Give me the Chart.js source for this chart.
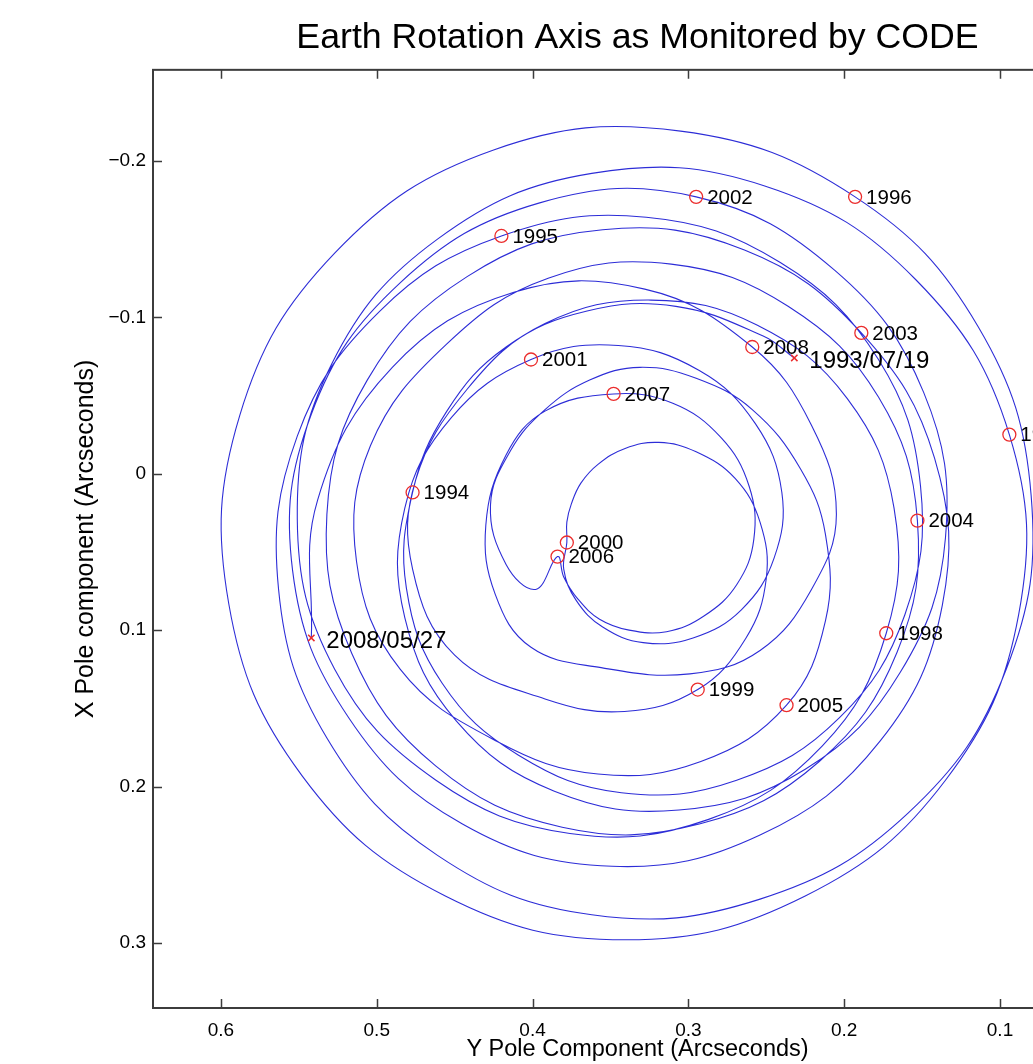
<!DOCTYPE html>
<html>
<head>
<meta charset="utf-8">
<title>Earth Rotation Axis as Monitored by CODE</title>
<script src="https://cdn.jsdelivr.net/npm/chart.js@4.4.1/dist/chart.umd.min.js"></script>
<style>
  html, body { margin: 0; padding: 0; background: #fff; overflow: hidden; }
  #wrap { position: absolute; left: 0; top: 0; width: 1150px; height: 1064px; }
</style>
</head>
<body>
<div id="wrap"><canvas id="chart" width="1150" height="1064"></canvas></div>
<script>
// Pole path 1993/07/19 .. 2008/05/27 (arcseconds)
// poleY = Y pole component (horizontal), poleX = X pole component (vertical)
const poleY = [
  0.232, 0.252, 0.308, 0.365, 0.417, 0.455,
  0.477, 0.481, 0.458, 0.409, 0.343, 0.269, 0.203, 0.161, 0.151, 0.178, 0.241, 0.327,
  0.420, 0.498, 0.551, 0.563, 0.532, 0.461, 0.362, 0.254, 0.159, 0.096, 0.080, 0.114,
  0.193, 0.305, 0.425, 0.527, 0.588, 0.595, 0.548, 0.456, 0.340, 0.225, 0.135, 0.088,
  0.094, 0.154, 0.251, 0.362, 0.461, 0.529, 0.551, 0.527, 0.462, 0.376, 0.287, 0.214,
  0.173, 0.168, 0.198, 0.256, 0.324, 0.392, 0.442, 0.475, 0.477, 0.450, 0.392, 0.341,
  0.294, 0.263, 0.250, 0.254, 0.270, 0.295, 0.319, 0.341, 0.358, 0.369, 0.375, 0.378,
  0.378, 0.380, 0.372, 0.355, 0.329, 0.297, 0.266, 0.245, 0.240, 0.257, 0.293, 0.345,
  0.401, 0.452, 0.482, 0.482, 0.449, 0.386, 0.306, 0.225, 0.164, 0.135, 0.149, 0.206,
  0.295, 0.396, 0.485, 0.542, 0.554, 0.518, 0.445, 0.349, 0.254, 0.177, 0.137, 0.142,
  0.189, 0.264, 0.355, 0.442, 0.506, 0.532, 0.516, 0.462, 0.381, 0.293, 0.216, 0.166,
  0.153, 0.178, 0.236, 0.311, 0.390, 0.455, 0.504, 0.513, 0.485, 0.423, 0.358, 0.292,
  0.237, 0.212, 0.212, 0.228, 0.259, 0.295, 0.331, 0.363, 0.392, 0.414, 0.427, 0.417, 0.398,
  0.384, 0.380, 0.371, 0.357, 0.338, 0.314, 0.290, 0.269, 0.258, 0.261, 0.279, 0.310,
  0.348, 0.392, 0.417, 0.430, 0.424, 0.401, 0.356, 0.299, 0.254, 0.221, 0.205, 0.221,
  0.259, 0.328, 0.412, 0.490, 0.538, 0.542
];
const poleX = [
  -0.074, -0.088, -0.107, -0.104, -0.081, -0.040,
  0.012, 0.073, 0.134, 0.180, 0.204, 0.196, 0.156, 0.090, 0.008, -0.073, -0.135, -0.164,
  -0.152, -0.104, -0.024, 0.074, 0.169, 0.244, 0.282, 0.272, 0.217, 0.125, 0.014, -0.094,
  -0.177, -0.219, -0.207, -0.141, -0.037, 0.083, 0.193, 0.270, 0.298, 0.270, 0.196, 0.090,
  -0.025, -0.124, -0.184, -0.192, -0.150, -0.070, 0.029, 0.125, 0.196, 0.230, 0.221, 0.174,
  0.102, 0.022, -0.048, -0.095, -0.111, -0.096, -0.054, 0.004, 0.061, 0.116, 0.144, 0.152,
  0.138, 0.105, 0.067, 0.031, 0.003, -0.014, -0.020, -0.016, -0.006, 0.006, 0.019, 0.031,
  0.044, 0.061, 0.081, 0.098, 0.108, 0.105, 0.087, 0.054, 0.012, -0.032, -0.066, -0.082,
  -0.073, -0.036, 0.022, 0.092, 0.158, 0.203, 0.215, 0.189, 0.127, 0.041, -0.052, -0.130,
  -0.177, -0.173, -0.122, -0.038, 0.062, 0.156, 0.224, 0.251, 0.231, 0.171, 0.084, -0.010,
  -0.090, -0.143, -0.156, -0.126, -0.060, 0.026, 0.115, 0.187, 0.226, 0.224, 0.184, 0.114,
  0.030, -0.049, -0.107, -0.134, -0.125, -0.083, -0.018, 0.056, 0.125, 0.171, 0.192, 0.184,
  0.148, 0.094, 0.039, -0.003, -0.041, -0.061, -0.068, -0.060, -0.041, -0.015, 0.020, 0.058, 0.074,
  0.053, 0.066, 0.080, 0.093, 0.100, 0.101, 0.091, 0.071, 0.042, 0.008, -0.023, -0.045,
  -0.051, -0.040, -0.012, 0.033, 0.077, 0.111, 0.124, 0.128, 0.113, 0.074, 0.026, -0.031,
  -0.081, -0.118, -0.116, -0.068, 0.017, 0.105
];

// Yearly markers (1 January)
const yearLabels = ['1994', '1995', '1996', '1997', '1998', '1999', '2000', '2001',
                    '2002', '2003', '2004', '2005', '2006', '2007', '2008'];
const yearY = [0.477, 0.420, 0.193, 0.094, 0.173, 0.294, 0.378, 0.401,
               0.295, 0.189, 0.153, 0.237, 0.384, 0.348, 0.259];
const yearX = [0.012, -0.152, -0.177, -0.025, 0.102, 0.138, 0.044, -0.073,
               -0.177, -0.090, 0.030, 0.148, 0.053, -0.051, -0.081];

// First and last epoch
const endLabels = ['1993/07/19', '2008/05/27'];
const endY = [0.232, 0.542];
const endX = [-0.074, 0.105];

const xTickValues = [0.6, 0.5, 0.4, 0.3, 0.2, 0.1];
const xTickLabels = ['0.6', '0.5', '0.4', '0.3', '0.2', '0.1'];
const yTickValues = [-0.2, -0.1, 0, 0.1, 0.2, 0.3];
const yTickLabels = ['\u22120.2', '\u22120.1', '0', '0.1', '0.2', '0.3'];

const FONT = "'Liberation Sans', Arial, Helvetica, sans-serif";
Chart.defaults.font.family = FONT;
Chart.defaults.color = '#000';

const toPoints = (xs, ys) => xs.map((v, i) => ({ x: v, y: ys[i] }));

// Boxed axes with inward ticks on all four sides (MATLAB look)
const frame = {
  id: 'frame',
  afterDatasetsDraw(chart) {
    const { ctx, chartArea: a, scales } = chart;
    ctx.save();
    ctx.strokeStyle = '#3c3c3c';
    ctx.lineWidth = 2;
    ctx.strokeRect(a.left, a.top, a.right - a.left, a.bottom - a.top);
    ctx.lineWidth = 1.5;
    ctx.beginPath();
    xTickValues.forEach(v => {
      const px = Math.round(scales.x.getPixelForValue(v)) + 0.5;
      ctx.moveTo(px, a.top); ctx.lineTo(px, a.top + 9);
      ctx.moveTo(px, a.bottom); ctx.lineTo(px, a.bottom - 9);
    });
    yTickValues.forEach(v => {
      const py = Math.round(scales.y.getPixelForValue(v)) + 0.5;
      ctx.moveTo(a.left, py); ctx.lineTo(a.left + 9, py);
      ctx.moveTo(a.right, py); ctx.lineTo(a.right - 9, py);
    });
    ctx.stroke();
    ctx.restore();
  }
};

// Text next to the year markers and the two end points
const markerText = {
  id: 'markerText',
  afterDatasetsDraw(chart) {
    const { ctx } = chart;
    ctx.save();
    ctx.fillStyle = '#000';
    ctx.textBaseline = 'middle';
    ctx.textAlign = 'left';
    ctx.font = '20.5px ' + FONT;
    chart.getDatasetMeta(0).data.forEach((pt, i) => {
      ctx.fillText(yearLabels[i], pt.x + 11, pt.y + 1);
    });
    ctx.font = '24px ' + FONT;
    chart.getDatasetMeta(1).data.forEach((pt, i) => {
      ctx.fillText(endLabels[i], pt.x + 15, pt.y + 3);
    });
    ctx.restore();
  }
};

new Chart(document.getElementById('chart'), {
  type: 'scatter',
  data: {
    datasets: [
      {
        label: 'years',
        data: toPoints(yearY, yearX),
        pointStyle: 'circle',
        pointRadius: 6.5,
        borderColor: 'rgb(235, 45, 45)',
        backgroundColor: 'rgba(0,0,0,0)',
        borderWidth: 1.3,
        showLine: false
      },
      {
        label: 'ends',
        data: toPoints(endY, endX),
        pointStyle: 'crossRot',
        pointRadius: 4.5,
        borderColor: 'rgb(235, 45, 45)',
        borderWidth: 1.5,
        showLine: false
      },
      {
        label: 'pole',
        data: toPoints(poleY, poleX),
        showLine: true,
        borderColor: 'rgb(45, 45, 215)',
        borderWidth: 1.1,
        pointRadius: 0,
        tension: 0.4,
        fill: false
      }
    ]
  },
  options: {
    responsive: false,
    animation: false,
    events: [],
    layout: { padding: { left: 0, right: 28, top: 0, bottom: 0 } },
    plugins: {
      legend: { display: false },
      tooltip: { enabled: false },
      title: {
        display: true,
        fullSize: false,
        text: 'Earth Rotation Axis as Monitored by CODE',
        font: { size: 35.7, weight: 'normal', lineHeight: 1.2 },
        color: '#000',
        padding: { top: 17, bottom: 10 }
      }
    },
    scales: {
      x: {
        type: 'linear',
        reverse: true,
        min: 0.0217,
        max: 0.6436,
        afterBuildTicks: s => { s.ticks = xTickValues.map(v => ({ value: v })); },
        afterFit: s => { s.height = 56; },
        grid: { display: false, drawTicks: false },
        border: { display: false },
        ticks: {
          autoSkip: false,
          maxRotation: 0,
          padding: 11,
          font: { size: 19 },
          color: '#000',
          callback: v => xTickLabels[xTickValues.indexOf(v)]
        },
        title: {
          display: true,
          text: 'Y Pole Component (Arcseconds)',
          font: { size: 23.5, lineHeight: 1.2 },
          color: '#000',
          padding: { top: 0, bottom: 0 }
        }
      },
      y: {
        type: 'linear',
        reverse: true,
        min: -0.2582,
        max: 0.3416,
        afterBuildTicks: s => { s.ticks = yTickValues.map(v => ({ value: v })); },
        afterFit: s => { s.width = 153; },
        grid: { display: false, drawTicks: false },
        border: { display: false },
        ticks: {
          autoSkip: false,
          padding: 7,
          font: { size: 19 },
          color: '#000',
          callback: v => yTickLabels[yTickValues.indexOf(v)]
        },
        title: {
          display: true,
          text: 'X Pole component (Arcseconds)',
          font: { size: 25, lineHeight: 1.2 },
          color: '#000',
          padding: { top: 71, bottom: 0 }
        }
      }
    }
  },
  plugins: [frame, markerText]
});
</script>
</body>
</html>
